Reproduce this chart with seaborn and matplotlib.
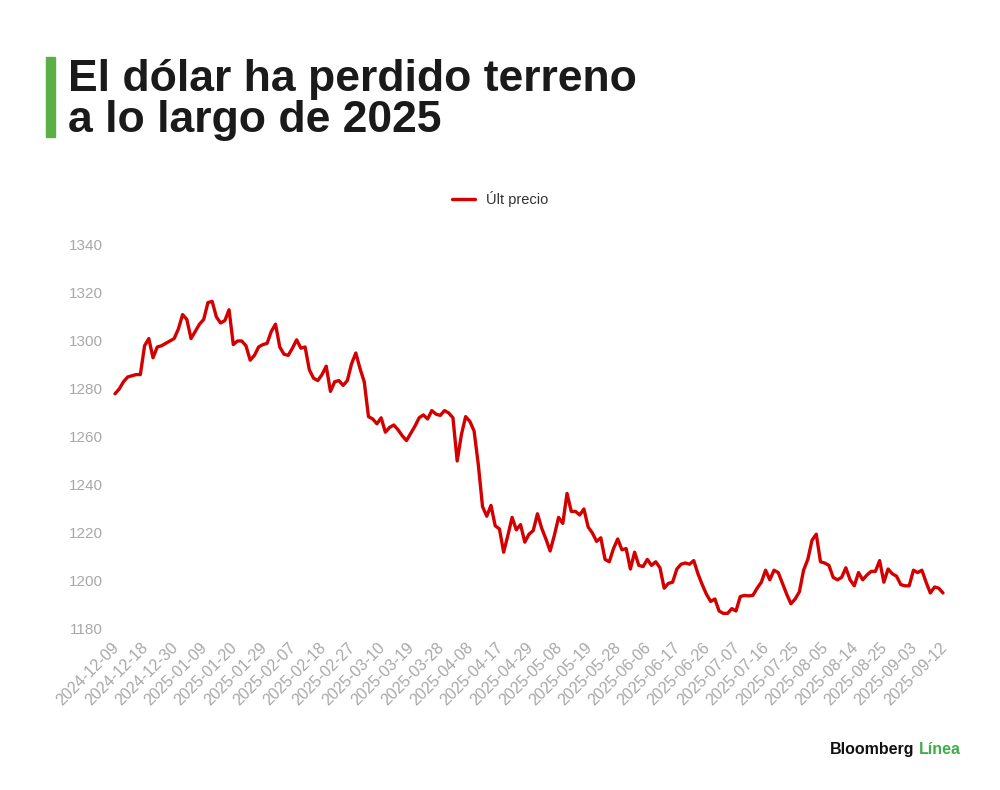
import numpy as np
import pandas as pd
import matplotlib
matplotlib.use("Agg")
import matplotlib.pyplot as plt
from matplotlib.patches import Rectangle
import matplotlib.transforms as mtransforms
import seaborn as sns

# Bloomberg dollar index, last price per trading day
precio = [
    1278.0, 1280.0, 1283.0, 1285.0, 1285.5, 1286.0, 1286.0, 1298.0, 1301.0, 1293.0,
    1297.5, 1298.0, 1299.0, 1300.0, 1301.0, 1305.0, 1311.0, 1309.0, 1301.0, 1304.0,
    1307.0, 1309.0, 1316.0, 1316.5, 1310.0, 1307.5, 1308.5, 1313.0, 1298.5, 1300.0,
    1300.0, 1298.0, 1292.0, 1294.0, 1297.5, 1298.5, 1299.0, 1304.0, 1307.0, 1297.5,
    1294.5, 1294.0, 1297.0, 1300.5, 1297.0, 1297.5, 1288.0, 1284.5, 1283.5, 1286.0,
    1289.5, 1279.0, 1283.0, 1283.5, 1281.5, 1283.5, 1290.5, 1295.0, 1288.5, 1283.0,
    1268.5, 1267.5, 1265.5, 1268.0, 1262.0, 1264.0, 1265.0, 1263.0, 1260.5, 1258.5,
    1261.5, 1264.5, 1268.0, 1269.2, 1267.5, 1271.0, 1269.5, 1269.0, 1271.0, 1270.0,
    1268.0, 1250.0, 1261.0, 1268.5, 1266.5, 1262.5, 1248.5, 1231.0, 1227.0, 1231.5,
    1223.0, 1221.7, 1212.0, 1219.0, 1226.5, 1221.3, 1223.5, 1216.2, 1219.5, 1221.0,
    1228.0, 1222.0, 1217.5, 1212.5, 1219.0, 1226.5, 1224.0, 1236.5, 1229.0, 1229.0,
    1227.5, 1230.0, 1222.5, 1220.0, 1216.5, 1218.0, 1209.0, 1208.0, 1213.5, 1217.5,
    1213.0, 1213.5, 1205.0, 1212.0, 1206.5, 1206.0, 1209.0, 1206.5, 1208.0, 1205.5,
    1197.0, 1199.0, 1199.5, 1205.0, 1207.0, 1207.5, 1207.0, 1208.5, 1203.0, 1198.5,
    1194.5, 1191.5, 1192.5, 1187.5, 1186.5, 1186.5, 1188.5, 1187.5, 1193.5, 1194.0,
    1193.8, 1194.0, 1197.0, 1199.5, 1204.5, 1200.5, 1204.5, 1203.5, 1199.0, 1194.5,
    1190.5, 1192.5, 1195.5, 1204.5, 1209.0, 1217.0, 1219.5, 1208.0, 1207.5, 1206.5,
    1201.5, 1200.5, 1201.5, 1205.5, 1200.5, 1198.0, 1203.5, 1200.5, 1202.5, 1204.0,
    1204.0, 1208.5, 1199.5, 1205.0, 1203.0, 1202.0, 1198.5, 1198.0, 1198.0, 1204.5,
    1203.5, 1204.5, 1199.5, 1195.0, 1197.5, 1197.0, 1195.0,
]
# trading calendar: weekdays minus the market holidays
festivos = ["2024-12-25", "2025-01-01", "2025-04-18"]
fechas = pd.bdate_range("2024-12-09", "2025-09-12", freq="C", holidays=festivos)
y_ticks = [1180, 1200, 1220, 1240, 1260, 1280, 1300, 1320, 1340]

titulo = ["El dólar ha perdido terreno", "a lo largo de 2025"]
serie = "Últ precio"

rojo = "#d40000"
verde = "#5aaf45"
gris = "#a8a8a8"

df = pd.DataFrame({"fecha": fechas.strftime("%Y-%m-%d"),
                   "n": np.arange(len(precio)),
                   "precio": precio})

sns.set_theme(style="white")
plt.rcParams["font.family"] = ["Liberation Sans", "DejaVu Sans"]

fig = plt.figure(figsize=(10, 7.9), dpi=100)
ax = fig.add_axes([0.115, 0.2038, 0.828, 0.4861])

sns.lineplot(data=df, x="n", y="precio", color=rojo, linewidth=2.4,
             label=serie, ax=ax, legend=False)

ax.set_xlim(df.n.iloc[0], df.n.iloc[-1])
ax.set_ylim(y_ticks[0], y_ticks[-1])
ax.set_yticks(y_ticks)
ax.set_xticks(df.n[::7])
ax.set_xticklabels(df.fecha[::7], rotation=45, ha="right", va="top",
                   rotation_mode="anchor")
ax.tick_params(axis="y", length=0, labelsize=11, labelcolor=gris, pad=9)
ax.tick_params(axis="x", length=0, labelsize=11.5, labelcolor=gris, pad=8)
# nudge the slanted date labels a little to the left
shift = mtransforms.ScaledTranslation(-4 / 100, 0, fig.dpi_scale_trans)
for lab in ax.get_xticklabels():
    lab.set_transform(lab.get_transform() + shift)
ax.set_xlabel("")
ax.set_ylabel("")
sns.despine(ax=ax, left=True, bottom=True)
for ln in ax.lines:
    ln.set_clip_on(False)

# legend above the plot
h, l = ax.get_legend_handles_labels()
fig.legend(h, l, loc="center", bbox_to_anchor=(0.5, 1 - 199 / 790),
           frameon=False, fontsize=10.5, handlelength=1.6, handletextpad=0.7,
           labelcolor="#333333")

# title with green bar
fig.patches.append(Rectangle((0.046, 1 - 137 / 790), 0.009, 80 / 790,
                             transform=fig.transFigure, color=verde))
fig.text(0.068, 1 - 91 / 790, titulo[0], fontsize=32, fontweight="bold",
         color="#1a1a1a", va="baseline", ha="left")
fig.text(0.068, 1 - 132 / 790, titulo[1], fontsize=32, fontweight="bold",
         color="#1a1a1a", va="baseline", ha="left")

# source logo, both words on the same baseline
y_logo = 1 - 754 / 790
t1 = fig.text(0.830, y_logo, "Bloomberg", fontsize=11.5, fontweight="bold",
              color="#111111", va="baseline", ha="left")
bb = t1.get_window_extent(renderer=fig.canvas.get_renderer())
x2 = (bb.x1 + 4) / fig.bbox.width
fig.text(x2, y_logo, "Línea", fontsize=11.5, fontweight="bold",
         color="#3fae49", va="baseline", ha="left")

fig.savefig("out.png", dpi=100, facecolor="white")
